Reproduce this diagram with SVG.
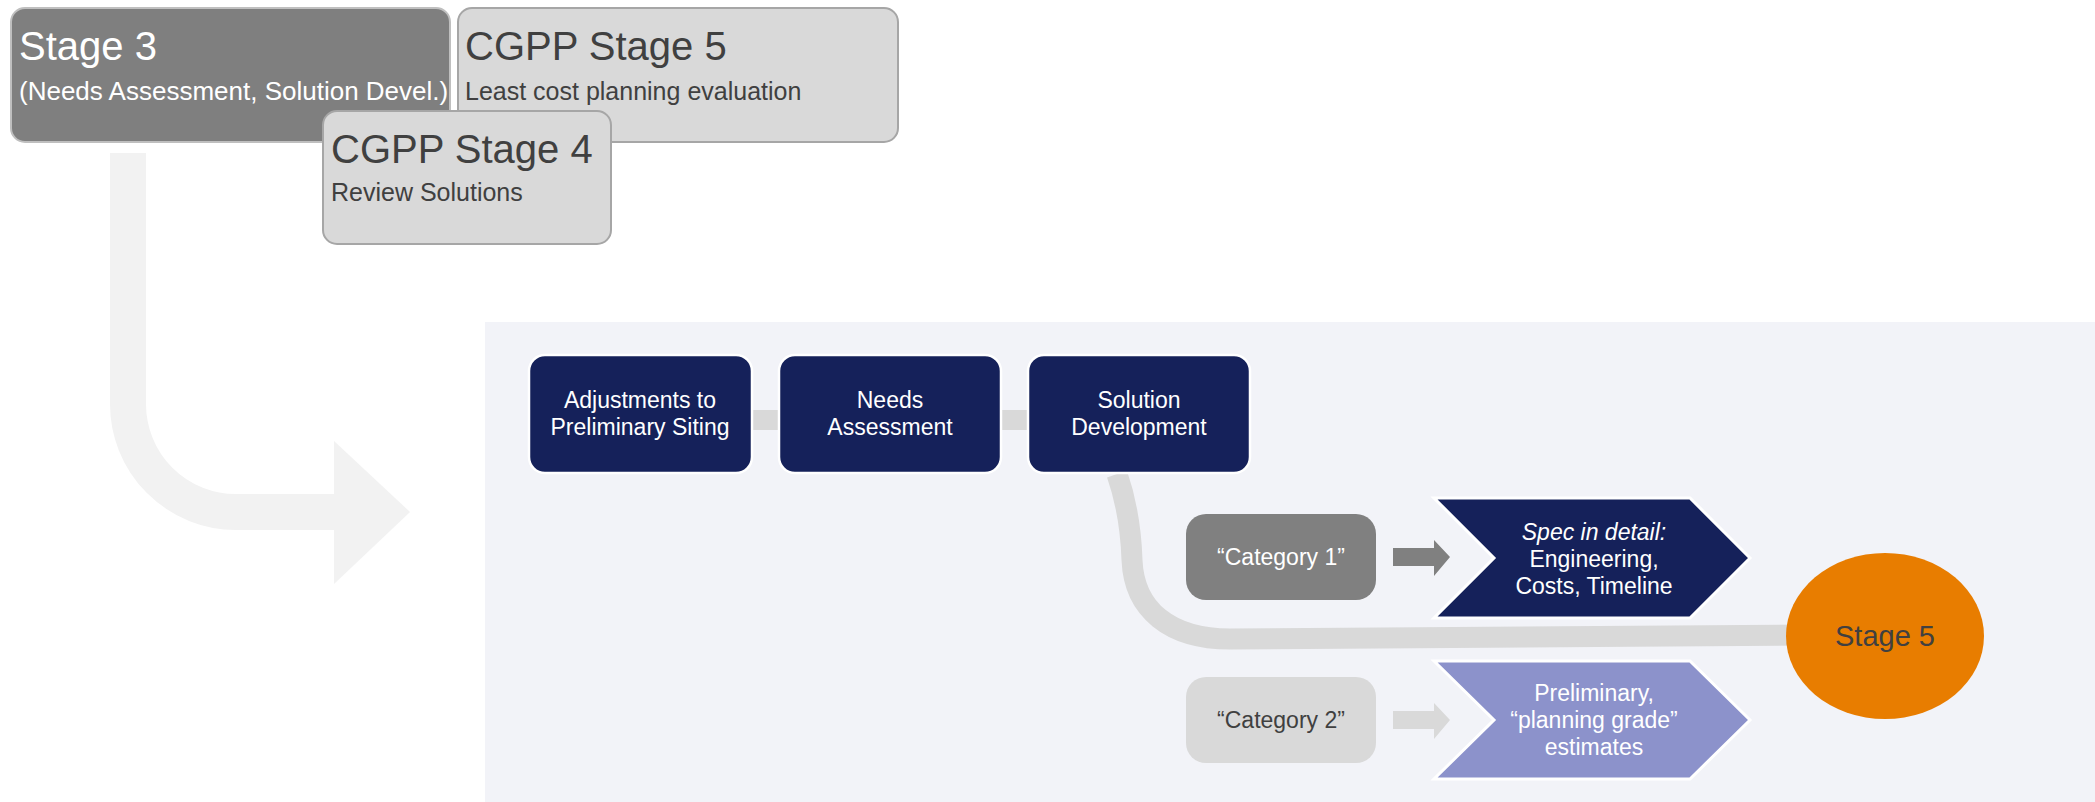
<svg xmlns="http://www.w3.org/2000/svg" width="2095" height="802" viewBox="0 0 2095 802">
<defs>
<style>
text{font-family:"Liberation Sans",Arial,sans-serif}
.top{stroke-width:2}
.t-big{font-size:40px}
.t-sub{font-size:25px}
.navy{fill:#15215a;stroke:#ffffff;stroke-width:2.5}
.wt{fill:#ffffff;font-size:23px;text-anchor:middle}
.dk{fill:#404040}
.conn{fill:#d9d9d9}
</style>
</defs>
<rect width="2095" height="802" fill="#ffffff"/>
<rect id="panel" x="485" y="322" width="1610" height="480" fill="#f2f3f8"/>
<g id="big-arrow">
<path d="M128,153 L128,404 A108,108 0 0 0 236,512 L336,512" fill="none" stroke="#f2f2f2" stroke-width="36"/>
<polygon points="334,441 410,512 334,584" fill="#f2f2f2"/>
</g>
<g id="stage3">
<rect class="top" x="11" y="8" width="439" height="134" rx="14" fill="#7f7f7f" stroke="#bfbfbf"/>
<text class="t-big" x="19" y="60" fill="#ffffff">Stage 3</text>
<text x="19" y="100" fill="#ffffff" font-size="26">(Needs Assessment, Solution Devel.)</text>
</g>
<g id="cgpp-stage5">
<rect class="top" x="458" y="8" width="440" height="134" rx="14" fill="#d9d9d9" stroke="#a6a6a6"/>
<text class="t-big dk" x="465" y="60">CGPP Stage 5</text>
<text class="t-sub dk" x="465" y="100">Least cost planning evaluation</text>
</g>
<g id="cgpp-stage4">
<rect class="top" x="323" y="111" width="288" height="133" rx="14" fill="#d9d9d9" stroke="#a6a6a6"/>
<text class="t-big dk" x="331" y="163">CGPP Stage 4</text>
<text class="t-sub dk" x="331" y="201">Review Solutions</text>
</g>
<g id="connectors">
<rect class="conn" x="752" y="410" width="27" height="20"/>
<rect class="conn" x="1001" y="410" width="27" height="20"/>
<path d="M1117,474 C1126,500 1131,530 1132,560 C1134,610 1170,639 1230,639 L1800,635" fill="none" stroke="#d9d9d9" stroke-width="21"/>
<polygon points="1393,548 1434,548 1434,540 1450,557 1434,576 1434,566 1393,566" fill="#808080"/>
<polygon points="1393,711 1434,711 1434,703 1450,720 1434,739 1434,729 1393,729" fill="#d9d9d9"/>
</g>
<g id="adjustments">
<rect class="navy" x="529" y="355" width="223" height="118" rx="16"/>
<text class="wt" x="640" y="408">Adjustments to</text>
<text class="wt" x="640" y="435">Preliminary Siting</text>
</g>
<g id="needs">
<rect class="navy" x="779" y="355" width="222" height="118" rx="16"/>
<text class="wt" x="890" y="408">Needs</text>
<text class="wt" x="890" y="435">Assessment</text>
</g>
<g id="solution">
<rect class="navy" x="1028" y="355" width="222" height="118" rx="16"/>
<text class="wt" x="1139" y="408">Solution</text>
<text class="wt" x="1139" y="435">Development</text>
</g>
<g id="category1">
<rect x="1186" y="514" width="190" height="86" rx="20" fill="#808080"/>
<text class="wt" x="1281" y="565">“Category 1”</text>
</g>
<g id="category2">
<rect x="1186" y="677" width="190" height="86" rx="20" fill="#d9d9d9"/>
<text class="dk" x="1281" y="728" font-size="23" text-anchor="middle">“Category 2”</text>
</g>
<g id="spec">
<polygon points="1434,498 1690,498 1750,558 1690,618 1434,618 1494,558" fill="#15215a" stroke="#ffffff" stroke-width="3"/>
<text class="wt" x="1594" y="540" font-style="italic">Spec in detail:</text>
<text class="wt" x="1594" y="567">Engineering,</text>
<text class="wt" x="1594" y="594">Costs, Timeline</text>
</g>
<g id="preliminary">
<polygon points="1434,661 1690,661 1750,720 1690,779 1434,779 1494,720" fill="#8c92cb" stroke="#ffffff" stroke-width="3"/>
<text class="wt" x="1594" y="701">Preliminary,</text>
<text class="wt" x="1594" y="728">“planning grade”</text>
<text class="wt" x="1594" y="755">estimates</text>
</g>
<g id="stage5">
<ellipse cx="1885" cy="636" rx="99" ry="83" fill="#e87d00"/>
<text class="dk" x="1885" y="646" font-size="29" text-anchor="middle">Stage 5</text>
</g>
</svg>
